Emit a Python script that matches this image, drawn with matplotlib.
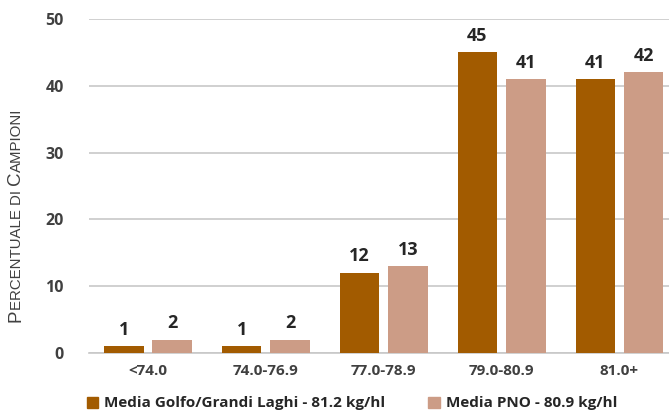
import matplotlib
matplotlib.use("Agg")
import matplotlib.pyplot as plt
from matplotlib.patches import Patch
import numpy as np

categories = ["<74.0", "74.0-76.9", "77.0-78.9", "79.0-80.9", "81.0+"]
golfo = [1, 1, 12, 45, 41]
pno = [2, 2, 13, 41, 42]
legend_labels = ["Media Golfo/Grandi Laghi - 81.2 kg/hl", "Media PNO - 80.9 kg/hl"]

BROWN = "#A25B00"
TAN = "#CC9C86"
DARK = "#404040"

plt.rcParams["font.family"] = ["Open Sans", "DejaVu Sans"]

fig = plt.figure(figsize=(6.69, 4.20), dpi=100)
ax = fig.add_axes([89 / 669, 67 / 420, 580 / 669, 334 / 420])

x = np.arange(len(categories))
w = 0.335
off = 0.205
ax.bar(x - off, golfo, w, color=BROWN, zorder=3)
ax.bar(x + off, pno, w, color=TAN, zorder=3)

for xi, v in zip(x, golfo):
    ax.text(xi - off, v + 1.1, str(v), ha="center", va="bottom",
            fontsize=13, fontweight="bold", color="#262626")
for xi, v in zip(x, pno):
    ax.text(xi + off, v + 1.1, str(v), ha="center", va="bottom",
            fontsize=13, fontweight="bold", color="#262626")

ax.set_xlim(-0.5, 4.42)
ax.set_ylim(0, 50)
ax.set_yticks(range(0, 51, 10))
ax.yaxis.grid(True, color="#C8C8C8", linewidth=1.2, zorder=0)
ax.set_axisbelow(True)
for s in ["top", "right", "left"]:
    ax.spines[s].set_visible(False)
ax.spines["bottom"].set_color("#C8C8C8")
ax.spines["bottom"].set_linewidth(1.2)
ax.tick_params(axis="both", length=0, colors=DARK)
ax.tick_params(axis="y", pad=18)
ax.tick_params(axis="x", pad=8)
ax.set_xticks(x)
ax.set_xticklabels(categories)
for lab in ax.get_yticklabels():
    lab.set_fontsize(11.5)
    lab.set_fontweight("bold")
for lab in ax.get_xticklabels():
    lab.set_fontsize(11)
    lab.set_fontweight("bold")

# y label in small caps, built piece by piece
pieces = [("P", 13.5), ("ERCENTUALE DI ", 10.8), ("C", 13.5), ("AMPIONI", 10.8)]
renderer = fig.canvas.get_renderer()
ypos = 1 - 322 / 420
for txt, size in pieces:
    t = fig.text(24 / 669, ypos, txt, rotation=90, fontsize=size, color=DARK,
                 ha="right", va="bottom", family=["Liberation Sans"])
    bb = t.get_window_extent(renderer=renderer)
    ypos += bb.height / fig.bbox.height

handles = [Patch(color=BROWN), Patch(color=TAN)]
leg = fig.legend(handles, legend_labels, loc="lower left", ncol=2,
                 bbox_to_anchor=(73 / 669, -0.01), frameon=False,
                 handlelength=0.75, handleheight=0.75, handletextpad=0.4,
                 columnspacing=2.8, prop={"size": 11, "weight": "bold"})
for t in leg.get_texts():
    t.set_color("#262626")

fig.savefig("out.png", dpi=100)
